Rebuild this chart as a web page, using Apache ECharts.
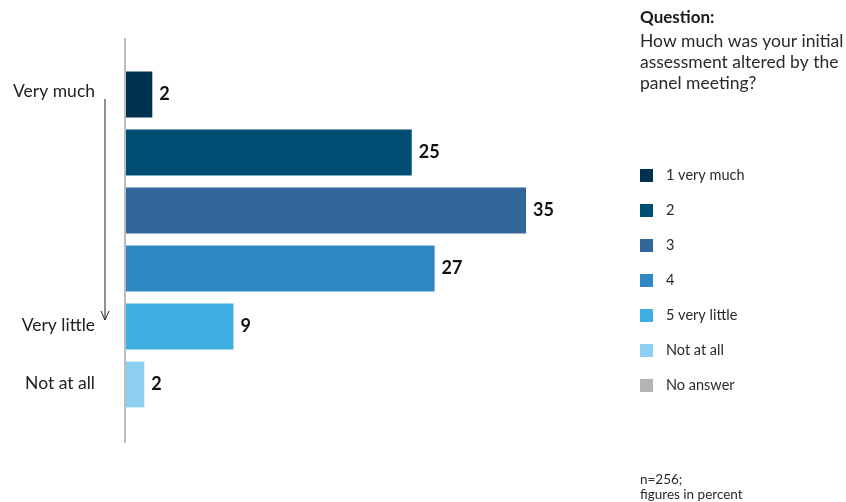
<!DOCTYPE html>
<html>
<head>
<meta charset="utf-8">
<script src="https://cdn.jsdelivr.net/npm/echarts@6/dist/echarts.min.js"></script>
<style>
html,body{margin:0;padding:0;background:#fff;}
#chart{width:846px;height:502px;}
</style>
</head>
<body>
<div id="chart"></div>
<script>
// Data
var rowLabels = ['Very much', '', '', '', 'Very little', 'Not at all'];
var seriesNames = ['1 very much', '2', '3', '4', '5 very little', 'Not at all', 'No answer'];
var values = [2.3, 25, 35, 27, 9.4, 1.6, null];
var colors = ['#00324f', '#004e74', '#336699', '#2f88c2', '#3eaee3', '#8dcff0', '#b3b3b3'];
var questionTitle = 'Question:';
var questionText = 'How much was your initial\nassessment altered by the\npanel meeting?';
var footnote = 'n=256;\nfigures in percent';

var FONT = 'Lato, "Noto Sans", sans-serif';

var series = seriesNames.map(function (name, i) {
  var d = rowLabels.map(function (_, j) { return j === i ? values[i] : null; });
  return {
    name: name,
    type: 'bar',
    stack: 'all',
    barCategoryGap: '21%',
    data: d,
    itemStyle: { color: colors[i] },
    label: {
      show: true,
      position: 'right',
      distance: 7,
      fontFamily: FONT,
      fontWeight: 'bold',
      fontSize: 18,
      color: '#111',
      formatter: function (p) { return p.value == null ? '' : String(Math.round(p.value)); }
    }
  };
});

var chart = echarts.init(document.getElementById('chart'), null, { renderer: 'canvas' });
chart.setOption({
  backgroundColor: '#fff',
  animation: false,
  textStyle: { fontFamily: FONT },
  title: [
    {
      text: questionTitle,
      subtext: questionText,
      left: 640,
      top: 9,
      padding: 0,
      itemGap: 5,
      textStyle: { fontFamily: FONT, fontSize: 17, fontWeight: 'bold', color: '#1a1a1a' },
      subtextStyle: { fontFamily: FONT, fontSize: 17.5, color: '#2a2a2a', lineHeight: 21 }
    },
    {
      text: footnote,
      left: 640,
      top: 472,
      padding: 0,
      textStyle: { fontFamily: FONT, fontSize: 13.5, fontWeight: 'normal', color: '#2a2a2a', lineHeight: 15 }
    }
  ],
  legend: {
    orient: 'vertical',
    left: 640,
    top: 168,
    padding: 0,
    itemWidth: 13,
    itemHeight: 13,
    itemGap: 20,
    icon: 'rect',
    data: seriesNames,
    textStyle: { fontFamily: FONT, fontSize: 14.5, color: '#2a2a2a', padding: [0, 0, 0, 8] }
  },
  grid: { left: 126, top: 65.5, width: 457.2, height: 348 },
  xAxis: {
    type: 'value',
    min: 0,
    max: 40,
    show: false
  },
  yAxis: {
    type: 'category',
    inverse: true,
    data: rowLabels,
    axisLine: { show: false },
    axisTick: { show: false },
    axisLabel: {
      margin: 31, fontFamily: FONT, fontSize: 17.5, color: '#222', verticalAlign: 'middle',
      formatter: function (v, i) { return i === 0 ? '{top|' + v + '}' : '{n|' + v + '}'; },
      rich: {
        top: { fontFamily: FONT, fontSize: 17.5, color: '#222', padding: [0, 0, 6, 0] },
        n: { fontFamily: FONT, fontSize: 17.5, color: '#222', padding: [0, 0, 2, 0] }
      }
    }
  },
  graphic: [
    { type: 'line', shape: { x1: 125, y1: 38, x2: 125, y2: 443 }, style: { stroke: '#a6a6a6', lineWidth: 1.5 } },
    { type: 'line', shape: { x1: 105, y1: 99, x2: 105, y2: 320 }, style: { stroke: '#222', lineWidth: 1 } },
    { type: 'polyline', shape: { points: [[101, 311], [105, 320], [109, 311]] }, style: { stroke: '#222', lineWidth: 1, fill: null } }
  ],
  series: series
});
</script>
</body>
</html>
